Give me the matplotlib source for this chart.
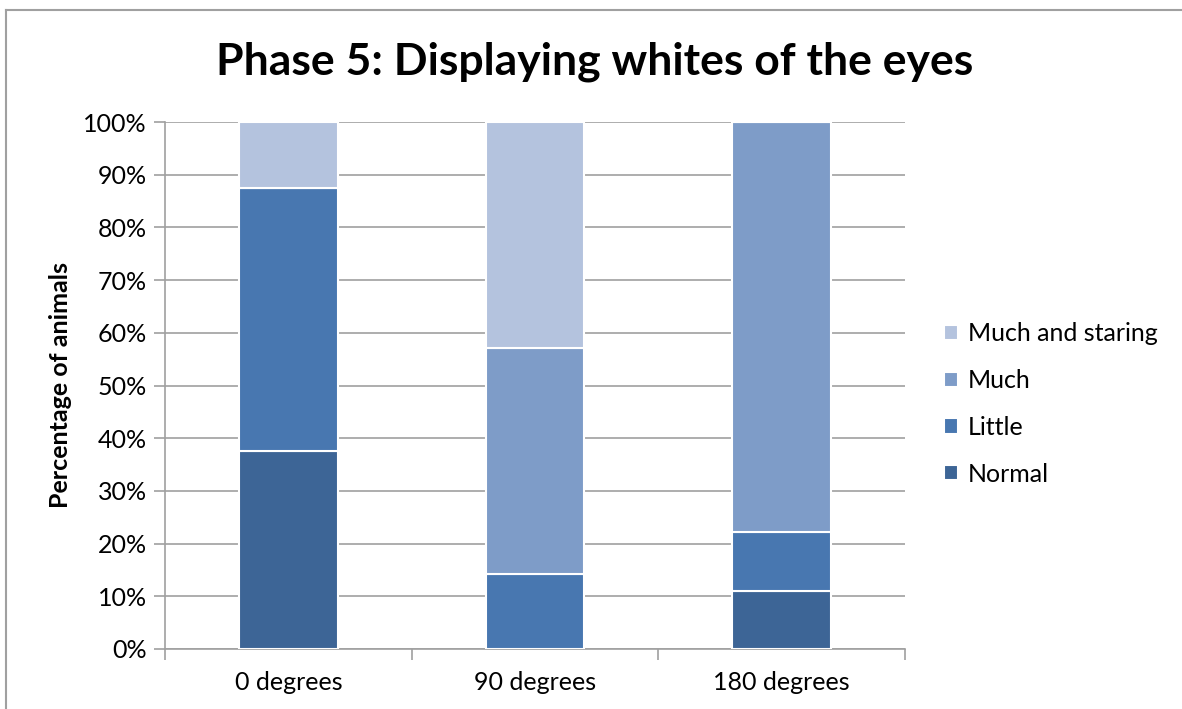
import numpy as np
import matplotlib.pyplot as plt
from matplotlib.lines import Line2D
from matplotlib.ticker import PercentFormatter

plt.rcParams['font.family'] = ['Lato', 'DejaVu Sans']

# data
categories = ["0 degrees", "90 degrees", "180 degrees"]
series = ["Normal", "Little", "Much", "Much and staring"]
normal = [37.5, 0.0, 11.1]
little = [50.0, 14.3, 11.1]
much = [0.0, 42.85, 77.8]
staring = [12.5, 42.85, 0.0]
colors = ["#3D6596", "#4877B0", "#7E9CC8", "#B4C3DE"]

W, H = 1182, 709
fig = plt.figure(figsize=(W / 100, H / 100), dpi=100)
# outer chart border (only left and top edges fall inside the image)
bx, by = 5.5 / W, 1 - 9.5 / H
fig.lines.append(Line2D([bx, bx], [-0.1, by], transform=fig.transFigure,
                        color="#A0A0A0", linewidth=1.5))
fig.lines.append(Line2D([bx, 1.1], [by, by], transform=fig.transFigure,
                        color="#A0A0A0", linewidth=1.5))

ax = fig.add_axes([165 / W, 1 - 649 / H, 740 / W, 527 / H])

x = np.arange(len(categories))
bottom = np.zeros(len(categories))
for name, vals, c in zip(series, [normal, little, much, staring], colors):
    vals = np.array(vals)
    ax.bar(x, vals, width=0.4, bottom=bottom, color=c, edgecolor="white",
           linewidth=1.5, label=name, zorder=3)
    bottom += vals

ax.set_xlim(-0.5, len(categories) - 0.5)
ax.set_ylim(0, 100)
ax.set_yticks(np.arange(0, 101, 10))
ax.yaxis.set_major_formatter(PercentFormatter(decimals=0))
ax.set_xticks(x)
ax.set_xticklabels(categories)
ax.set_xticks(np.arange(-0.5, len(categories), 1), minor=True)
ax.tick_params(axis="x", which="major", length=0, labelsize=18, pad=16)
ax.tick_params(axis="x", which="minor", length=8, color="#A0A0A0", width=1.2)
ax.tick_params(axis="y", length=8, color="#A0A0A0", width=1.2, labelsize=18, pad=5)
ax.grid(axis="y", color="#A0A0A0", linewidth=1.2, zorder=0)
for s in ["top", "right"]:
    ax.spines[s].set_visible(False)
for s in ["left", "bottom"]:
    ax.spines[s].set_color("#A0A0A0")
    ax.spines[s].set_linewidth(1.2)

ax.set_ylabel("Percentage of animals", fontsize=18, fontweight="bold", labelpad=8)
fig.text(595 / W, 1 - 62 / H, "Phase 5: Displaying whites of the eyes",
         fontsize=32, fontweight="bold", ha="center", va="center")

h, l = ax.get_legend_handles_labels()
ax.legend(h[::-1], l[::-1], loc="center left", bbox_to_anchor=(1.022, 0.465),
          frameon=False, fontsize=18, handlelength=0.55, handleheight=0.55,
          labelspacing=0.95, handletextpad=0.4)

fig.savefig("out.png", dpi=100)
